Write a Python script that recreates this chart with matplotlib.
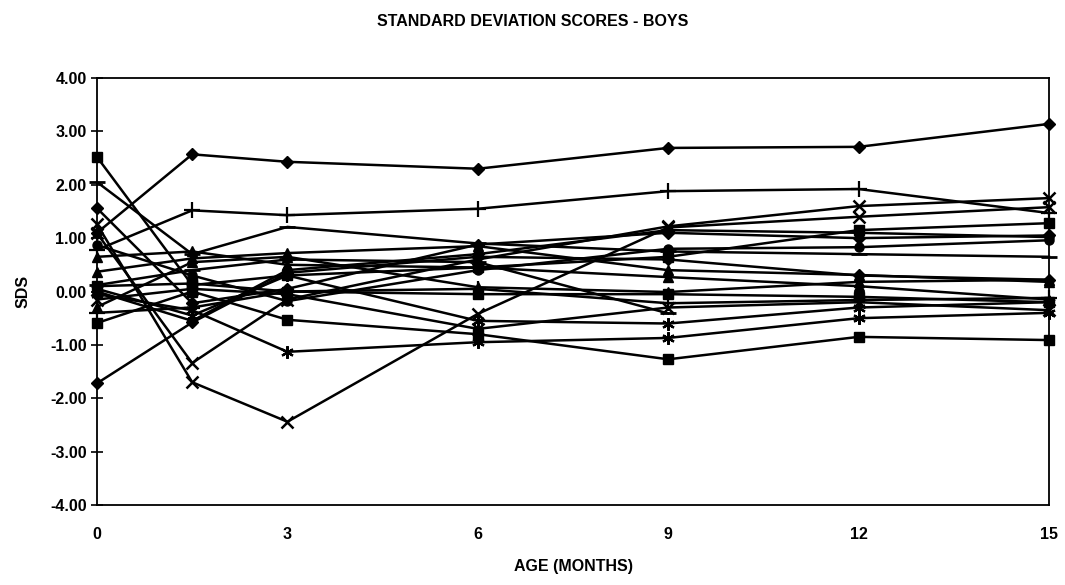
import matplotlib
matplotlib.use("Agg")
import matplotlib.pyplot as plt
import numpy as np

plt.rcParams['font.family'] = ['Liberation Sans', 'DejaVu Sans']

ages = [0, 1.5, 3, 6, 9, 12, 15]
x_ticks = [0, 3, 6, 9, 12, 15]
y_ticks = [-4, -3, -2, -1, 0, 1, 2, 3, 4]

nan = np.nan
s01 = [1.10, 2.57, 2.43, 2.30, 2.69, 2.71, 3.14]
s02 = [2.52, 0.12, 0.30, 0.45, 0.65, 1.15, 1.28]
s03 = [0.37, 0.62, 0.72, 0.85, 0.40, 0.31, 0.18]
s04 = [1.09, -1.34, -0.15, 0.60, 1.22, 1.60, 1.75]
s05 = [-0.05, -0.35, -1.13, -0.95, -0.87, -0.50, -0.40]
s06 = [0.87, 0.30, -0.18, 0.40, 0.80, 0.83, 0.96]
s07 = [0.78, 1.52, 1.43, 1.55, 1.88, 1.92, 1.47]
s08 = [2.05, 0.70, 1.21, 0.90, 0.75, 0.70, 0.65]
s09 = [1.56, -0.22, 0.05, 0.88, 1.10, 1.00, 1.05]
s10 = [-0.59, 0.00, -0.53, -0.80, -1.27, -0.85, -0.91]
s11 = [-0.29, 0.55, 0.65, 0.08, -0.01, 0.18, 0.22]
s12 = [1.26, -1.70, -2.44, -0.42, 1.20, 1.40, 1.58]
s13 = [0.05, -0.45, 0.30, -0.55, -0.60, -0.30, -0.20]
s14 = [0.00, -0.55, 0.40, 0.70, 1.15, 1.10, 1.02]
s15 = [-0.40, -0.30, 0.00, 0.05, -0.22, -0.16, -0.12]
s16 = [0.12, 0.40, 0.60, 0.55, -0.41, nan, nan]
s17 = [-1.72, -0.58, 0.35, 0.65, 0.60, 0.30, 0.22]
s18 = [0.10, 0.15, 0.00, -0.05, -0.05, -0.10, -0.20]
s19 = [0.65, 0.75, 0.50, 0.45, 0.27, 0.10, -0.15]
s20 = [-0.15, 0.05, -0.05, -0.70, -0.30, -0.20, -0.35]

series = [s01, s02, s03, s04, s05, s06, s07, s08, s09, s10,
          s11, s12, s13, s14, s15, s16, s17, s18, s19, s20]

asterisk = (6, 2, 0)
marker_cycle = [
    dict(marker='D', ms=6),
    dict(marker='s', ms=6.5),
    dict(marker='^', ms=6.5),
    dict(marker='x', ms=8, mew=1.8),
    dict(marker=asterisk, ms=9, mew=1.6),
    dict(marker='o', ms=6.5),
    dict(marker='+', ms=11, mew=1.6),
    dict(marker='_', ms=12, mew=2),
]

fig = plt.figure(figsize=(10.65, 5.85), dpi=100)
ax = fig.add_axes([97/1065, 1 - 505/585, (1049-97)/1065, (505-78)/585])

for i, s in enumerate(series):
    m = marker_cycle[i % len(marker_cycle)]
    ax.plot(ages, s, color='black', lw=1.8, mfc='black', mec='black', **m,
            clip_on=False, zorder=3)

fs = 11.5
ax.set_xlim(0, 15)
ax.set_ylim(-4, 4)
ax.set_xticks(x_ticks)
ax.set_xticklabels([str(t) for t in x_ticks], fontweight='bold')
ax.set_yticks(y_ticks)
ax.set_yticklabels([f"{t:.2f}" for t in y_ticks], fontweight='bold')
ax.tick_params(axis='y', direction='inout', length=9, width=1.2, labelsize=fs, pad=3)
ax.tick_params(axis='x', length=0, labelsize=fs, pad=16)
for sp in ax.spines.values():
    sp.set_linewidth(1.3)
    sp.set_color('black')

ax.set_ylabel('SDS', fontsize=fs, fontweight='bold', labelpad=14)
ax.set_xlabel('AGE (MONTHS)', fontsize=fs, fontweight='bold', labelpad=12)
fig.text(0.5, 1 - 22/585, 'STANDARD DEVIATION SCORES - BOYS', ha='center', va='center',
         fontsize=fs, fontweight='bold')

fig.savefig('out.png', dpi=100)
